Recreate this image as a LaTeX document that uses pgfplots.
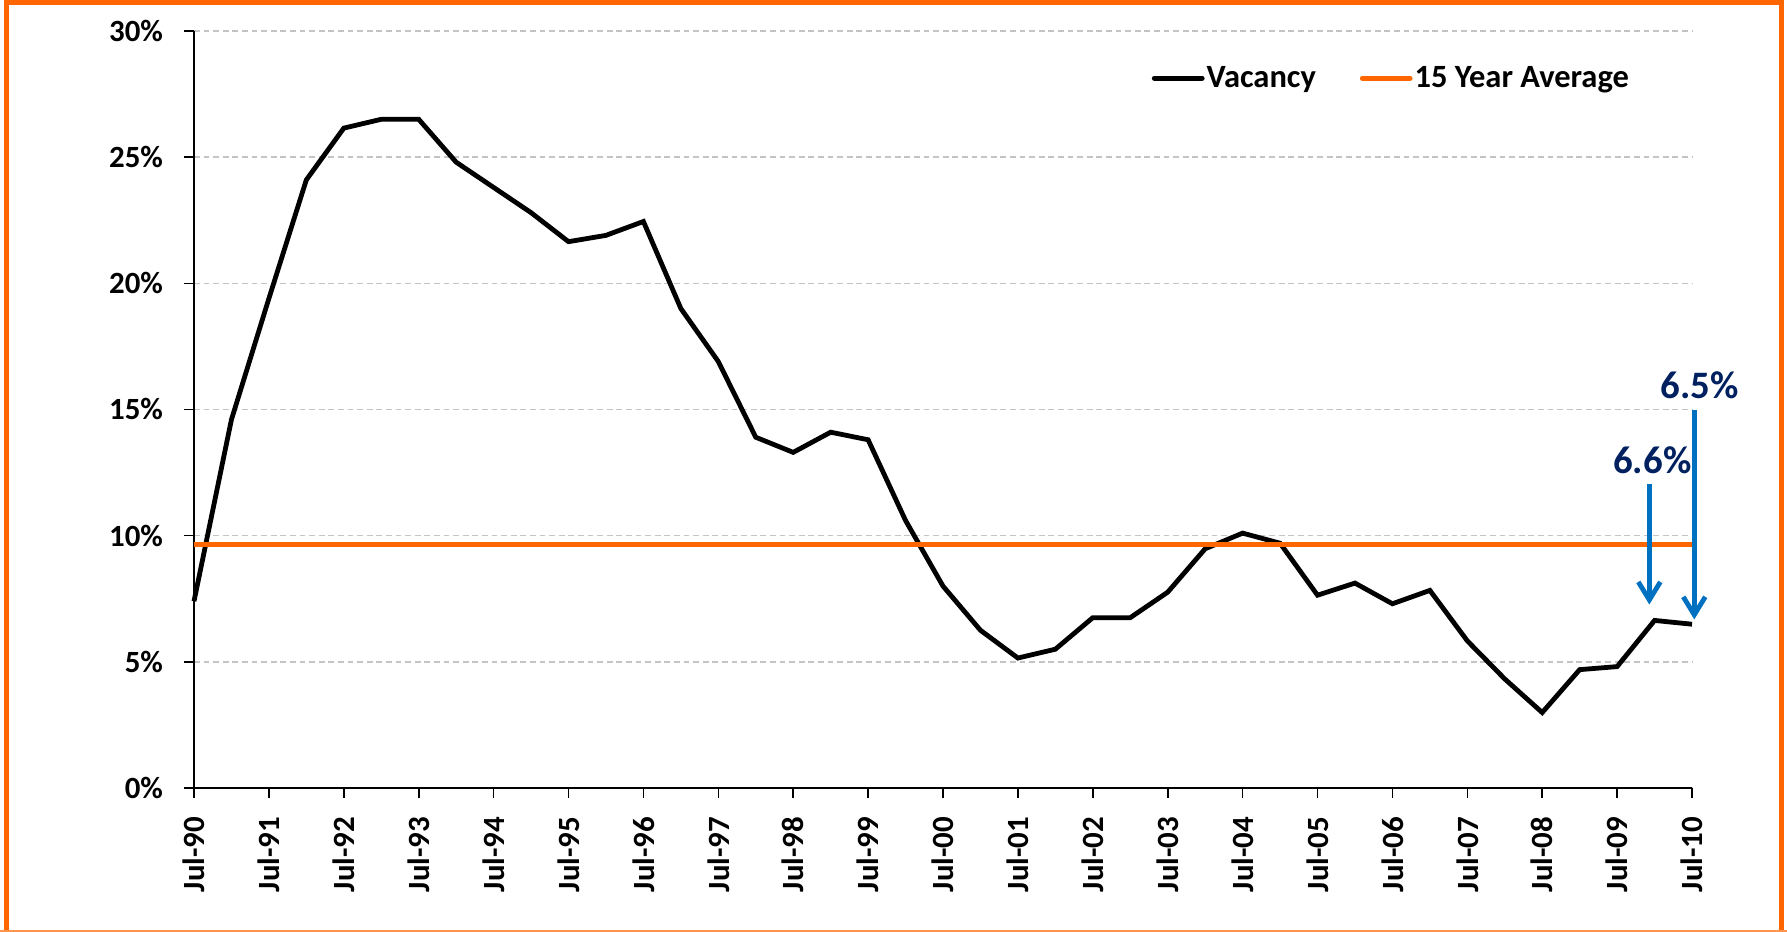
\documentclass[border=0pt]{standalone}
\usepackage{fontspec}
\setmainfont{Carlito}
\usepackage{pgfplots}
\pgfplotsset{compat=1.18}
\usetikzlibrary{arrows.meta}
\definecolor{vorange}{HTML}{FF6600}
\definecolor{navy}{HTML}{002060}
\definecolor{ablue}{HTML}{0070C0}
\definecolor{gridgray}{HTML}{C4C4C4}
\newcommand\tickfont{\fontsize{15.5}{18}\selectfont\bfseries}
\newcommand\legfont{\fontsize{16.3}{19}\selectfont\bfseries}
\newcommand\annfont{\fontsize{19.5}{22}\selectfont\bfseries}
\begin{document}
\begin{tikzpicture}[x=1bp,y=1bp]
\useasboundingbox (0,0) rectangle (893.5,466);
\draw[vorange, line width=2.3bp] (3.1,0) -- (3.1,464.8) -- (890.75,464.8) -- (890.75,0);
\draw[vorange!70, line width=1bp] (0,0.5) -- (893.5,0.5);
\begin{axis}[
  at={(97bp,72bp)}, anchor=south west,
  scale only axis, width=749bp, height=378.5bp,
  xmin=0, xmax=20, ymin=0, ymax=30,
  clip=false,
  axis x line=bottom, axis y line=left,
  axis line style={-, black, line width=0.8bp},
  tick align=outside, major tick length=4.8bp,
  tick style={black, line width=0.8bp},
  xtick={0,1,...,20},
  xticklabels={Jul-90,Jul-91,Jul-92,Jul-93,Jul-94,Jul-95,Jul-96,Jul-97,Jul-98,Jul-99,Jul-00,Jul-01,Jul-02,Jul-03,Jul-04,Jul-05,Jul-06,Jul-07,Jul-08,Jul-09,Jul-10},
  ytick={0,5,...,30},
  yticklabels={0\%,5\%,10\%,15\%,20\%,25\%,30\%},
  /pgf/number format/assume math mode=true,
  xticklabel style={rotate=90, anchor=east, inner sep=0pt, font=\tickfont},
  yticklabel style={anchor=east, inner sep=0pt, font=\tickfont},
  xticklabel shift=9.5bp,
  yticklabel shift=10.5bp,
  ymajorgrids,
  major grid style={gridgray, line width=0.75bp, dash pattern=on 2.9bp off 1.9bp},
  legend columns=2,
  legend style={at={(rel axis cs:0.6394,0.9376)}, anchor=west, draw=none, fill=none,
    inner sep=0pt, outer sep=0pt, font=\legfont,
    nodes={inner sep=1bp},
    /tikz/every even column/.append style={column sep=21bp}},
  legend image code/.code={\draw[#1, line cap=round] (0bp,0bp) -- (24bp,0bp);},
]
\addplot[black, line width=2.4bp, line join=miter] coordinates {
(0,7.4)(0.5,14.6)(1,19.4)(1.5,24.1)(2,26.15)(2.5,26.5)(3,26.5)(3.5,24.8)
(4,23.8)(4.5,22.8)(5,21.65)(5.5,21.9)(6,22.45)(6.5,19.0)(7,16.9)(7.5,13.9)
(8,13.3)(8.5,14.1)(9,13.8)(9.5,10.6)(10,8.0)(10.5,6.25)(11,5.15)(11.5,5.5)
(12,6.75)(12.5,6.75)(13,7.76)(13.5,9.48)(14,10.1)(14.5,9.7)(15,7.64)(15.5,8.12)
(16,7.3)(16.5,7.83)(17,5.83)(17.5,4.32)(18,2.99)(18.5,4.69)(19,4.81)(19.5,6.64)(20,6.49)};
\addlegendentry{Vacancy}
\addplot[vorange, line width=2.3bp] coordinates {(0,9.64)(20,9.64)};
\addlegendentry{15 Year Average}
\draw[ablue, line width=2.4bp, -{Straight Barb[length=9bp,width=11bp,line width=2.4bp]}] (axis cs:19.43,12.03) -- (axis cs:19.43,7.27);
\draw[ablue, line width=2.4bp, -{Straight Barb[length=9bp,width=11bp,line width=2.4bp]}] (axis cs:20.03,14.99) -- (axis cs:20.03,6.68);
\node[navy, font=\annfont, inner sep=0pt] at (axis cs:19.47,13.0) {6.6\%};
\node[navy, font=\annfont, inner sep=0pt] at (axis cs:20.1,15.97) {6.5\%};
\end{axis}
\end{tikzpicture}
\end{document}
